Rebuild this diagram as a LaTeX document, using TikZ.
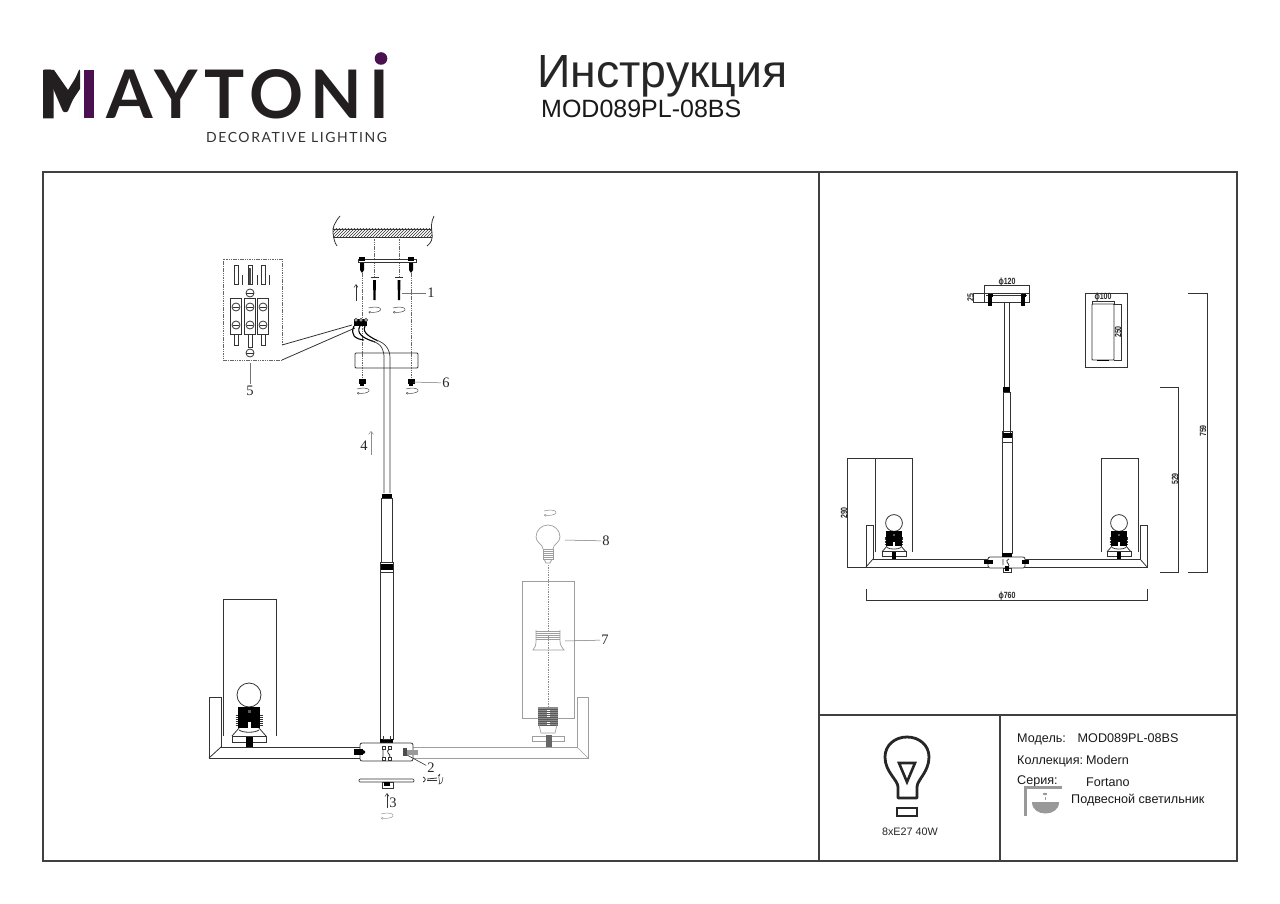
\documentclass[tikz,border=0pt]{standalone}
\usepackage{fontspec}
\setmainfont{Liberation Sans}
\newfontfamily\logofont{Lato}
\newfontfamily\numfont{Liberation Serif}
\usepackage{tikz}
\usetikzlibrary{arrows.meta}
\usetikzlibrary{patterns}
\definecolor{logoink}{HTML}{231F20}
\definecolor{logoplum}{HTML}{4A1050}
\tikzset{
	frameline/.style={draw=black!75, line width=1.2pt},
	part/.style={draw=black!80, line width=.8pt},
	ghost/.style={draw=black!38, line width=.7pt},
	hidden/.style={draw=black!60, line width=.8pt, dash pattern=on 1.5pt off .8pt},
	leader/.style={draw=black!55, line width=.5pt},
	dimline/.style={draw=black!80, line width=.7pt},
	turnmark/.style={draw=black!70, line width=.5pt, -{To[length=2pt,width=2.5pt]}},
	callout/.style={font=\numfont\fontsize{14.5}{15}\selectfont, inner sep=1pt, text=black!85},
	dimtext/.style={font=\bfseries\fontsize{9}{9}\selectfont, inner sep=0pt, xscale=.78, text=black!85},
	infotext/.style={font=\fontsize{12.6}{14}\selectfont, anchor=base west, inner sep=0pt, text=black!90},
}
% small turning arrow
\newcommand{\turnmark}[3][]{
	\begin{scope}[shift={(#2,#3)}]
		\draw[turnmark,#1] (-6,-2) .. controls (2,-4) and (7,-2.5) .. (6,0) .. controls (5,2) and (-1,3) .. (-6,2);
	\end{scope}
}
% lamp holder with bulb, origin at the bulb centre
\newcommand{\lampblack}{
	\draw[part] (0,0) circle (12);
	\fill[black] (-11,12) rectangle (11,33);
	\foreach \y in {20,22,24,26,28,30}
		\draw[part] (-13.5,\y) -- (-11,\y) (11,\y) -- (13.5,\y);
	\fill[white] (-1.5,27) rectangle (1.5,34);
	\fill[black!65] (-1.5,15) rectangle (1.5,18);
	\draw[part] (-10,33) -- (-17,41) (10,33) -- (17,41);
	\draw[part] (-10,35) .. controls (-6,38) and (6,38) .. (10,35);
	\draw[part, fill=white] (-17,41) rectangle (17,47);
	\fill[black] (-3.5,42) rectangle (3.5,52);
}
\begin{document}
\begin{tikzpicture}[x=1pt, y=-1pt, line cap=butt]
\useasboundingbox (0,0) rectangle (1280,904);
\fill[white] (0,0) rectangle (1280,904);

% logo
\node[anchor=base west, inner sep=0pt, xscale=.8, text=logoink, font=\logofont\bfseries\fontsize{67}{67}\selectfont] (logoM) at (40,118.5) {M};
\fill[white] (80,60) rectangle (100,125);
\fill[logoink] (43,70) -- (54,70) -- (68,90) -- (80,71) -- (80,89) -- (68,107) -- (53.5,86) -- (53.5,118.5) -- (43,118.5) -- cycle;
\fill[logoplum] (84,70) rectangle (93.5,118.5);
\node[anchor=base west, inner sep=0pt, text=logoink, font=\logofont\bfseries\fontsize{67}{67}\selectfont\addfontfeature{LetterSpace=10}] (logotext) at (106,118.5) {AYTONI};
\fill[logoplum] (381,58.5) circle (6.3);
\node[anchor=base west, inner sep=0pt, text=black!80, font=\logofont\fontsize{14}{14}\selectfont\addfontfeature{LetterSpace=11}] (logosub) at (206,142.5) {DECORATIVE LIGHTING};

% title
\node[anchor=base west, inner sep=0pt, text=black!85, font=\fontsize{46.5}{46}\selectfont] (title) at (537,88) {Инструкция};
\node[anchor=base west, inner sep=0pt, text=black!90, font=\fontsize{25}{25}\selectfont] (model) at (541,118) {MOD089PL-08BS};

% frame
\draw[frameline] (43,172) rectangle (1237,861);
\draw[frameline] (819,172) -- (819,861);
\draw[frameline] (819,715) -- (1237,715);
\draw[frameline] (1000,715) -- (1000,861);

% ceiling
\fill[pattern=north east lines, pattern color=black!80] (333,229) rectangle (432,237);
\draw[part] (333,229) -- (432,229) (333,237) -- (432,237);
\draw[part] (340,216) .. controls (335,222) and (332,228) .. (333,233) .. controls (334,238) and (334,242) .. (337,246);
\draw[part] (434,216) .. controls (431,222) and (431,228) .. (432,233) .. controls (433,239) and (431,243) .. (427,246);
\draw[hidden] (374.5,237) -- (374.5,278) (399,237) -- (399,278);

% mounting bar and screws
\draw[part, fill=white] (358,259.5) rectangle (416,262.5);
\foreach \x in {362,411} {
	\fill[black] (\x-3,257) rectangle (\x+3,261);
	\fill[black] (\x-2,263) -- (\x+2,263) -- (\x+2,270) -- (\x,273) -- (\x-2,270) -- cycle;
	\draw[hidden] (\x,273) -- (\x,379);
	\fill[black] (\x-3.5,379) rectangle (\x+3.5,384);
	\fill[black] (\x-2,384) rectangle (\x+2,386);
}
% anchors
\foreach \x in {374.5,399} {
	\draw[part] (\x-4,277.5) -- (\x+4,277.5);
	\fill[black] (\x-1.5,280) -- (\x+1.5,280) -- (\x+1,300) -- (\x-1,300) -- cycle;
	\turnmark{\x}{310}
}
\turnmark{363}{391}
\turnmark{412}{391}
\draw[part, line width=.5pt, -{Straight Barb[length=3pt,width=4pt]}] (356,301) -- (356,284);

% terminal blocks
\draw[black!60, line width=.8pt, dash pattern=on 1.5pt off .8pt] (282,345) -- (282,259) -- (223,259) -- (223,360) -- (282,360);
\draw[part] (282,345) -- (352,325);
\draw[part] (282,360) -- (355,328);
\foreach \x/\l in {236/345,250/347,263/345} {
	\draw[part] (\x-2,265.5) rectangle (\x+2,284);
	\draw[part] (\x-2,334) rectangle (\x+2,\l);
	\draw[part, fill=white] (\x-5.5,298) rectangle (\x+5.5,334);
	\draw[part] (\x,307) circle (4) (\x,325) circle (4);
	\draw[part] (\x-3,307) -- (\x+3,307) (\x-3,325) -- (\x+3,325);
}
\fill[black!70] (249,268) rectangle (251,284);
\draw[part] (242,275) -- (242,285) (257,275) -- (257,285) (269,275) -- (269,285);
\draw[part] (250,293) circle (4) (250,353) circle (4);
\draw[part] (246,293) -- (254,293) (246,353) -- (254,353);

% connector with wires
\fill[black] (354,319) rectangle (367,326);
\foreach \x in {356,361,366}
	\draw[part, fill=white] (\x,320) circle (1.6);
\draw[black, line width=1.1pt] (354,326) .. controls (350,335) and (355,339) .. (364,340);
\draw[black, line width=1.1pt] (360,326) .. controls (356,333) and (362,338) .. (375,342);
\draw[black, line width=1.1pt] (365,326) .. controls (362,332) and (368,336) .. (378,341);

% canopy and stem
\draw[part, rounded corners=1pt, fill=white] (355,353) rectangle (418,368);
\draw[hidden] (362,353) -- (362,368) (411,353) -- (411,368);
\draw[part, line width=.7pt] (372,341) .. controls (382,344) and (384,350) .. (384,358) -- (384,493);
\draw[part, line width=.7pt] (376,340) .. controls (386,343) and (390,350) .. (390,358) -- (390,493);
\fill[black] (382,494) rectangle (392,498);
\draw[part] (381,498) rectangle (392,562);
\fill[black] (380,564) rectangle (393,570);
\draw[part] (380.5,562) rectangle (393,572);
\draw[part] (380,572) rectangle (393.5,739);
\fill[black] (380,739) rectangle (393,744);
\draw[part] (383,736) -- (383,739) -- (390,739) -- (390,736);

% left arm
\draw[part] (360,747) -- (221,747) -- (221,697) -- (209,697) -- (209,758) -- (360,758);
\draw[part] (209,758) -- (221,747);
\draw[part] (223,736) -- (223,599) -- (276,599) -- (276,736);
\begin{scope}[shift={(249,695)}]
	\lampblack
\end{scope}

% right arm
\draw[ghost] (413,747) -- (577,747) -- (577,697) -- (588,697) -- (588,758) -- (413,758);
\draw[ghost] (588,758) -- (577,747);

% right lamp
\draw[ghost] (522,581) rectangle (574,718);
\draw[ghost] (543,549) .. controls (543,544) and (536,543) .. (536,537) arc (180:360:12) .. controls (560,543) and (553,544) .. (553,549);
\draw[ghost] (543,549) rectangle (553,559);
\foreach \y in {551,553,555,557}
	\draw[ghost] (543,\y) -- (553,\y);
\draw[ghost] (544,559) -- (546,563) -- (550,563) -- (552,559);
\draw[draw=black!45, line width=.7pt, densely dotted] (548,565) -- (548,707);
\foreach \y in {631,633,635,637,639}
	\draw[ghost] (536,\y) -- (560,\y);
\draw[ghost] (536,630) -- (536,641) .. controls (536,645) and (535,648) .. (533,650) -- (564,650) .. controls (562,648) and (560,645) .. (560,641) -- (560,630);
\fill[black!45] (538,707) rectangle (558,725);
\fill[white] (546.5,710) rectangle (549.5,718);
\fill[white] (546.5,722) rectangle (549.5,730);
\foreach \y in {709,711,...,725}
	\draw[draw=black!65, line width=.6pt] (538,\y) -- (558,\y);
\draw[ghost] (539,725) -- (541,733) -- (555,733) -- (557,725);
\draw[ghost] (532,736) rectangle (564,741);
\fill[black!60] (545.5,735) rectangle (551.5,747);
\turnmark[draw=black!45]{550}{513}

% hub
\draw[part, rounded corners=2pt, fill=white] (360,743) rectangle (413,761);
\fill[black] (354,749) rectangle (363,755);
\fill[black] (363,750) -- (365,751) -- (365,753) -- (363,754) -- cycle;
\fill[black!70] (403,748) rectangle (407,756);
\fill[black!40] (407,750) rectangle (418,755);
\draw[part] (382,746) rectangle (385,749) (388,746) rectangle (391,749);
\draw[part] (382,757) rectangle (385,760) (388,757) rectangle (391,760);
\draw[part] (383,749) -- (383,757) (390,749) .. controls (384,752) and (391,754) .. (390,757);

% bottom plate
\draw[part, rounded corners=1pt, line width=.7pt] (359,779) rectangle (414,782);
\draw[part] (382,782) rectangle (393,788);
\fill[black] (384,782) rectangle (390,785.5);
\draw[part, line width=.5pt, -{Straight Barb[length=3pt,width=4pt]}] (387,808) -- (387,793);
\turnmark[draw=black!40]{387}{816}
% small screw
\draw[part] (427,779) -- (437,778) (427,780.5) -- (437,780.5);
\draw[part] (423,777) .. controls (426,778) and (426,781) .. (423,782);
\draw[part, line width=.5pt] (440,774) .. controls (437,778) and (441,781) .. (439,784) .. controls (442,784) and (443,780) .. (443,777);
\draw[part, line width=.5pt] (440,774) -- (438,776);

% arrow four
\draw[draw=black!45, line width=.5pt, -{Straight Barb[length=3pt,width=5pt]}] (371,455) -- (371,431);

% callouts
\node[callout] (lab1) at (431,293) {1};
\node[callout] (lab2) at (431,768) {2};
\node[callout] (lab3) at (393,803) {3};
\node[callout] (lab4) at (364,446) {4};
\node[callout] (lab5) at (250,390.5) {5};
\node[callout] (lab6) at (446,383) {6};
\node[callout] (lab7) at (605,640) {7};
\node[callout] (lab8) at (606,541) {8};
\coordinate (end1) at (402,293);
\coordinate (end2) at (407,755);
\coordinate (end5) at (250,363);
\coordinate (end6) at (413,382);
\coordinate (end7) at (565,641);
\coordinate (end8) at (565,540);
\draw[leader] (end1) -- (lab1);
\draw[part, line width=.6pt] (end2) -- (lab2);
\draw[leader] (end5) -- (lab5);
\draw[leader] (end6) -- (lab6);
\draw[leader] (end7) -- (lab7);
\draw[leader] (end8) -- (lab8);

% side view, ceiling plate
\draw[part] (984,293) rectangle (1029,302);
\draw[part] (986,295) -- (1027,295);
\foreach \x in {990,1023} {
	\fill[black] (\x-2.5,294) rectangle (\x+2.5,297);
	\fill[black] (\x-2,297) rectangle (\x+2,306);
}
\draw[part] (1004,302) rectangle (1009,387);
\fill[black] (1003,387) rectangle (1010,392);
\draw[part] (1003,392) rectangle (1010,433);
\fill[black] (1002,433) rectangle (1012,438);
\draw[part] (1002,431) rectangle (1012,442);
\draw[part] (1002,442) rectangle (1012,553);
\fill[black] (1002,553) rectangle (1012,557);

% side view, arms
\draw[part] (988,559) -- (873,559) -- (873,525) -- (866,525) -- (866,567) -- (988,567);
\draw[part] (866,567) -- (873,559);
\draw[part] (1025,559) -- (1140,559) -- (1140,525) -- (1147,525) -- (1147,567) -- (1025,567);
\draw[part] (1147,567) -- (1140,559);
\draw[part] (875,552) -- (875,458) (912,552) -- (912,458);
\draw[part] (1101,552) -- (1101,458) -- (1138,458) -- (1138,552);
\foreach \x in {894,1119} {
	\begin{scope}[shift={(\x,523)}, scale=.7]
		\lampblack
	\end{scope}
}
\draw[part, rounded corners=2pt, fill=white] (988,557) rectangle (1025,568);
\fill[black] (984,560) rectangle (993,564);
\fill[black] (1022,560) rectangle (1029,564);
\draw[part] (1003,568) rectangle (1011,572);
\fill[black] (1005,566) rectangle (1009,571);
\draw[part] (1003,559) -- (1003,565) (1009,559) .. controls (1004,561) and (1009,563) .. (1009,566);
\fill[black] (1002,553) rectangle (1012,557);

% lampshade inset
\draw[part] (1085,293) rectangle (1127,367);
\draw[part, rounded corners=.8pt] (1092,304) rectangle (1114,360);
\fill[black] (1097,359.5) rectangle (1109,361);

% dimensions
\draw[dimline] (984,293) -- (984,285) -- (1029,285) -- (1029,293);
\draw[dimline] (984,293) -- (973,293) (984,302) -- (973,302) (973.5,293) -- (973.5,302);
\draw[dimline] (1092,304) -- (1092,301) -- (1114,301) -- (1114,304);
\draw[dimline] (1114,304) -- (1121,304) -- (1121,360) -- (1114,360);
\draw[dimline] (1188,293) -- (1207,293) -- (1207,572) -- (1188,572);
\draw[dimline] (1160,387) -- (1178.5,387) -- (1178.5,572) -- (1160,572);
\draw[dimline] (912,458) -- (847,458) -- (847,567) -- (866,567);
\draw[dimline] (866,589) -- (866,600) -- (1147,600) -- (1147,589);
\node[dimtext] (dimA) at (1007,282) {ϕ120};
\node[rotate=90, dimtext] (dimB) at (970.5,297.5) {25};
\node[dimtext] (dimC) at (1103,297.5) {ϕ100};
\node[rotate=90, dimtext] (dimD) at (1118,332) {250};
\node[rotate=90, dimtext] (dimE) at (1203,431) {759};
\node[rotate=90, dimtext] (dimF) at (1175,479) {529};
\node[rotate=90, dimtext] (dimG) at (844,513) {290};
\node[dimtext] (dimH) at (1007,596.5) {ϕ760};

% bulb symbol
\draw[draw=black!85, line width=2.8pt, line join=round] (898,798) -- (898,787) .. controls (898,780) and (885,772) .. (885,757) .. controls (885,745) and (895,737) .. (907,737) .. controls (919,737) and (929,745) .. (929,757) .. controls (929,772) and (917,780) .. (917,787) -- (917,798) -- cycle;
\draw[draw=black!85, line width=2.6pt] (899,763) -- (915,763) -- (907,782) -- cycle;
\draw[draw=black!85, line width=2.6pt] (897,808) rectangle (917,816);
\node[font=\fontsize{10.8}{12}\selectfont, text=black!85, inner sep=0pt] (lampinfo) at (910,831.5) {8xE27 40W};

% info block
\node[infotext] (infoA) at (1017,742.5) {Модель:};
\node[infotext] (infoB) at (1077.5,742.5) {MOD089PL-08BS};
\node[infotext] (infoC) at (1017,764) {Коллекция:};
\node[infotext] (infoD) at (1086,764.5) {Modern};
\node[infotext] (infoE) at (1017,784.5) {Серия:};
\node[infotext] (infoF) at (1086,786) {Fortano};
\fill[black!40] (1024,785.5) rectangle (1062,788.5);
\fill[black!40] (1024,785.5) rectangle (1027,816);
\fill[black!40] (1032,802) -- (1059,802) .. controls (1059,810) and (1052,813.5) .. (1045.5,813.5) .. controls (1039,813.5) and (1032,810) .. (1032,802) -- cycle;
\fill[black!40] (1045,794) ellipse (2.2 and 1.2);
\fill[black!40] (1044.5,797) rectangle (1045.5,800);
\node[infotext] (infoG) at (1071,803.5) {Подвесной светильник};
\end{tikzpicture}
\end{document}
